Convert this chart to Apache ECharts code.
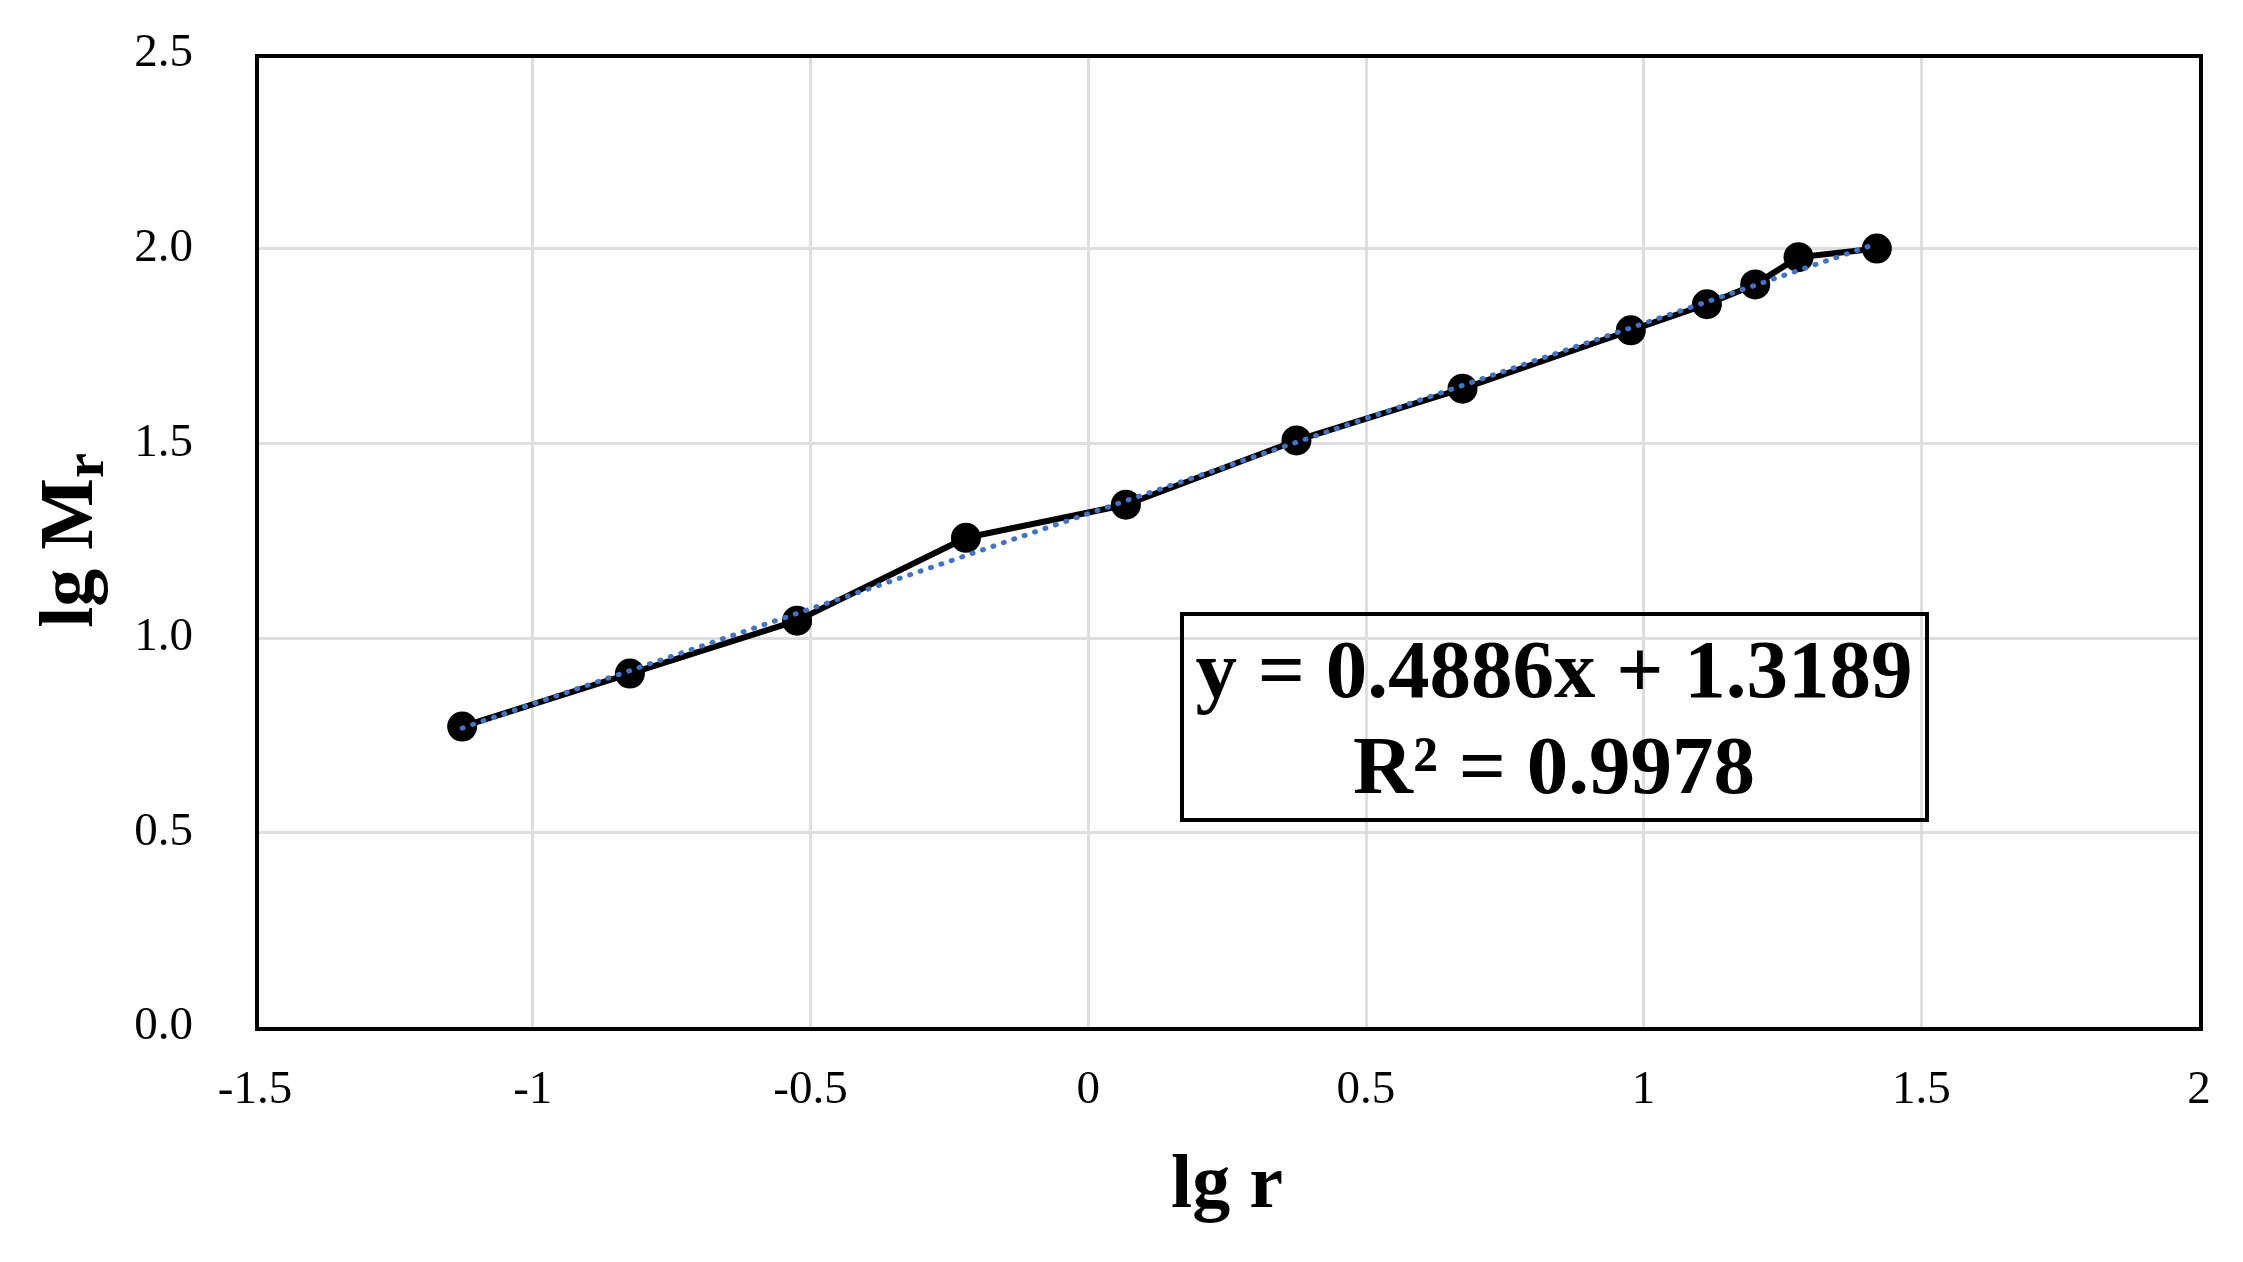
<!DOCTYPE html>
<html>
<head>
<meta charset="utf-8">
<script src="https://cdn.jsdelivr.net/npm/echarts@6/dist/echarts.min.js"></script>
<style>
html,body{margin:0;padding:0;background:#fff;}
#chart{width:2243px;height:1262px;}
</style>
</head>
<body>
<div id="chart"></div>
<script>
// Data
var lgR = [-1.127, -0.825, -0.524, -0.220, 0.068, 0.375, 0.674, 0.977, 1.114, 1.201, 1.279, 1.420];
var lgMr = [0.772, 0.908, 1.044, 1.257, 1.342, 1.507, 1.640, 1.790, 1.857, 1.908, 1.978, 2.000];
// Linear trendline endpoints (as drawn)
var trendX = [-1.127, 1.420];
var trendY = [0.768, 2.013];
var equationLines = ['y = 0.4886x + 1.3189', 'R² = 0.9978'];
var xTicks = { min: -1.5, max: 2, interval: 0.5 };
var yTicks = { min: 0, max: 2.5, interval: 0.5 };

var FONT = '"Liberation Serif", "Times New Roman", serif';
var chart = echarts.init(document.getElementById('chart'), null, { renderer: 'canvas' });

var mainData = lgR.map(function (x, i) { return [x, lgMr[i]]; });
var trendData = trendX.map(function (x, i) { return [x, trendY[i]]; });

chart.setOption({
  backgroundColor: '#ffffff',
  animation: false,
  grid: { left: 255, right: 44, top: 54, bottom: 235, show: false },
  xAxis: {
    type: 'value', min: xTicks.min, max: xTicks.max, interval: xTicks.interval,
    name: 'lg r', nameLocation: 'middle', nameGap: 122,
    nameTextStyle: { fontFamily: FONT, fontWeight: 'bold', fontSize: 76, color: '#000' },
    axisLine: { show: false }, axisTick: { show: false },
    axisLabel: { fontFamily: FONT, fontSize: 47, color: '#000', margin: 40, formatter: function (v) { return String(v); } },
    splitLine: { show: true, showMinLine: false, showMaxLine: false, lineStyle: { color: '#dedede', width: 3 } }
  },
  yAxis: {
    type: 'value', min: yTicks.min, max: yTicks.max, interval: yTicks.interval,
    name: '{m|lg M}{s|r}', nameLocation: 'middle', nameGap: 138,
    nameTextStyle: {
      fontFamily: FONT, fontWeight: 'bold', fontSize: 76, color: '#000',
      rich: {
        m: { fontFamily: FONT, fontWeight: 'bold', fontSize: 76, color: '#000', lineHeight: 90, verticalAlign: 'middle' },
        s: { fontFamily: FONT, fontWeight: 'bold', fontSize: 56, color: '#000', lineHeight: 90, verticalAlign: 'bottom', padding: [34, 0, 0, 0] }
      }
    },
    axisLine: { show: false }, axisTick: { show: false },
    axisLabel: { fontFamily: FONT, fontSize: 47, color: '#000', margin: 62, formatter: function (v) { return v.toFixed(1); } },
    splitLine: { show: true, showMinLine: false, showMaxLine: false, lineStyle: { color: '#dedede', width: 3 } }
  },
  series: [
    {
      type: 'line', data: mainData, symbol: 'circle', symbolSize: 30,
      lineStyle: { color: '#000', width: 6 }, itemStyle: { color: '#000' }, z: 3
    },
    {
      type: 'line', data: trendData, symbol: 'none',
      lineStyle: { color: '#4472C4', width: 5, type: [1, 10], cap: 'round' }, z: 4
    }
  ],
  graphic: [
    {
      type: 'rect', left: 255, top: 54, z: 50, silent: true,
      shape: { x: 0, y: 0, width: 1944, height: 973 },
      style: { fill: 'transparent', stroke: '#000', lineWidth: 4 }
    },
    {
      type: 'group', left: 1180, top: 612, z: 100,
      children: [
        { type: 'rect', z: 100, shape: { x: 0, y: 0, width: 745, height: 206 }, style: { fill: 'transparent', stroke: '#000', lineWidth: 4 } },
        { type: 'text', z: 100, x: 372, y: 62, style: { text: equationLines[0], font: 'bold 83px ' + FONT, fill: '#000', textAlign: 'center', textVerticalAlign: 'middle' } },
        { type: 'text', z: 100, x: 372, y: 158, style: { text: equationLines[1], font: 'bold 83px ' + FONT, fill: '#000', textAlign: 'center', textVerticalAlign: 'middle' } }
      ]
    }
  ]
});
</script>
</body>
</html>
